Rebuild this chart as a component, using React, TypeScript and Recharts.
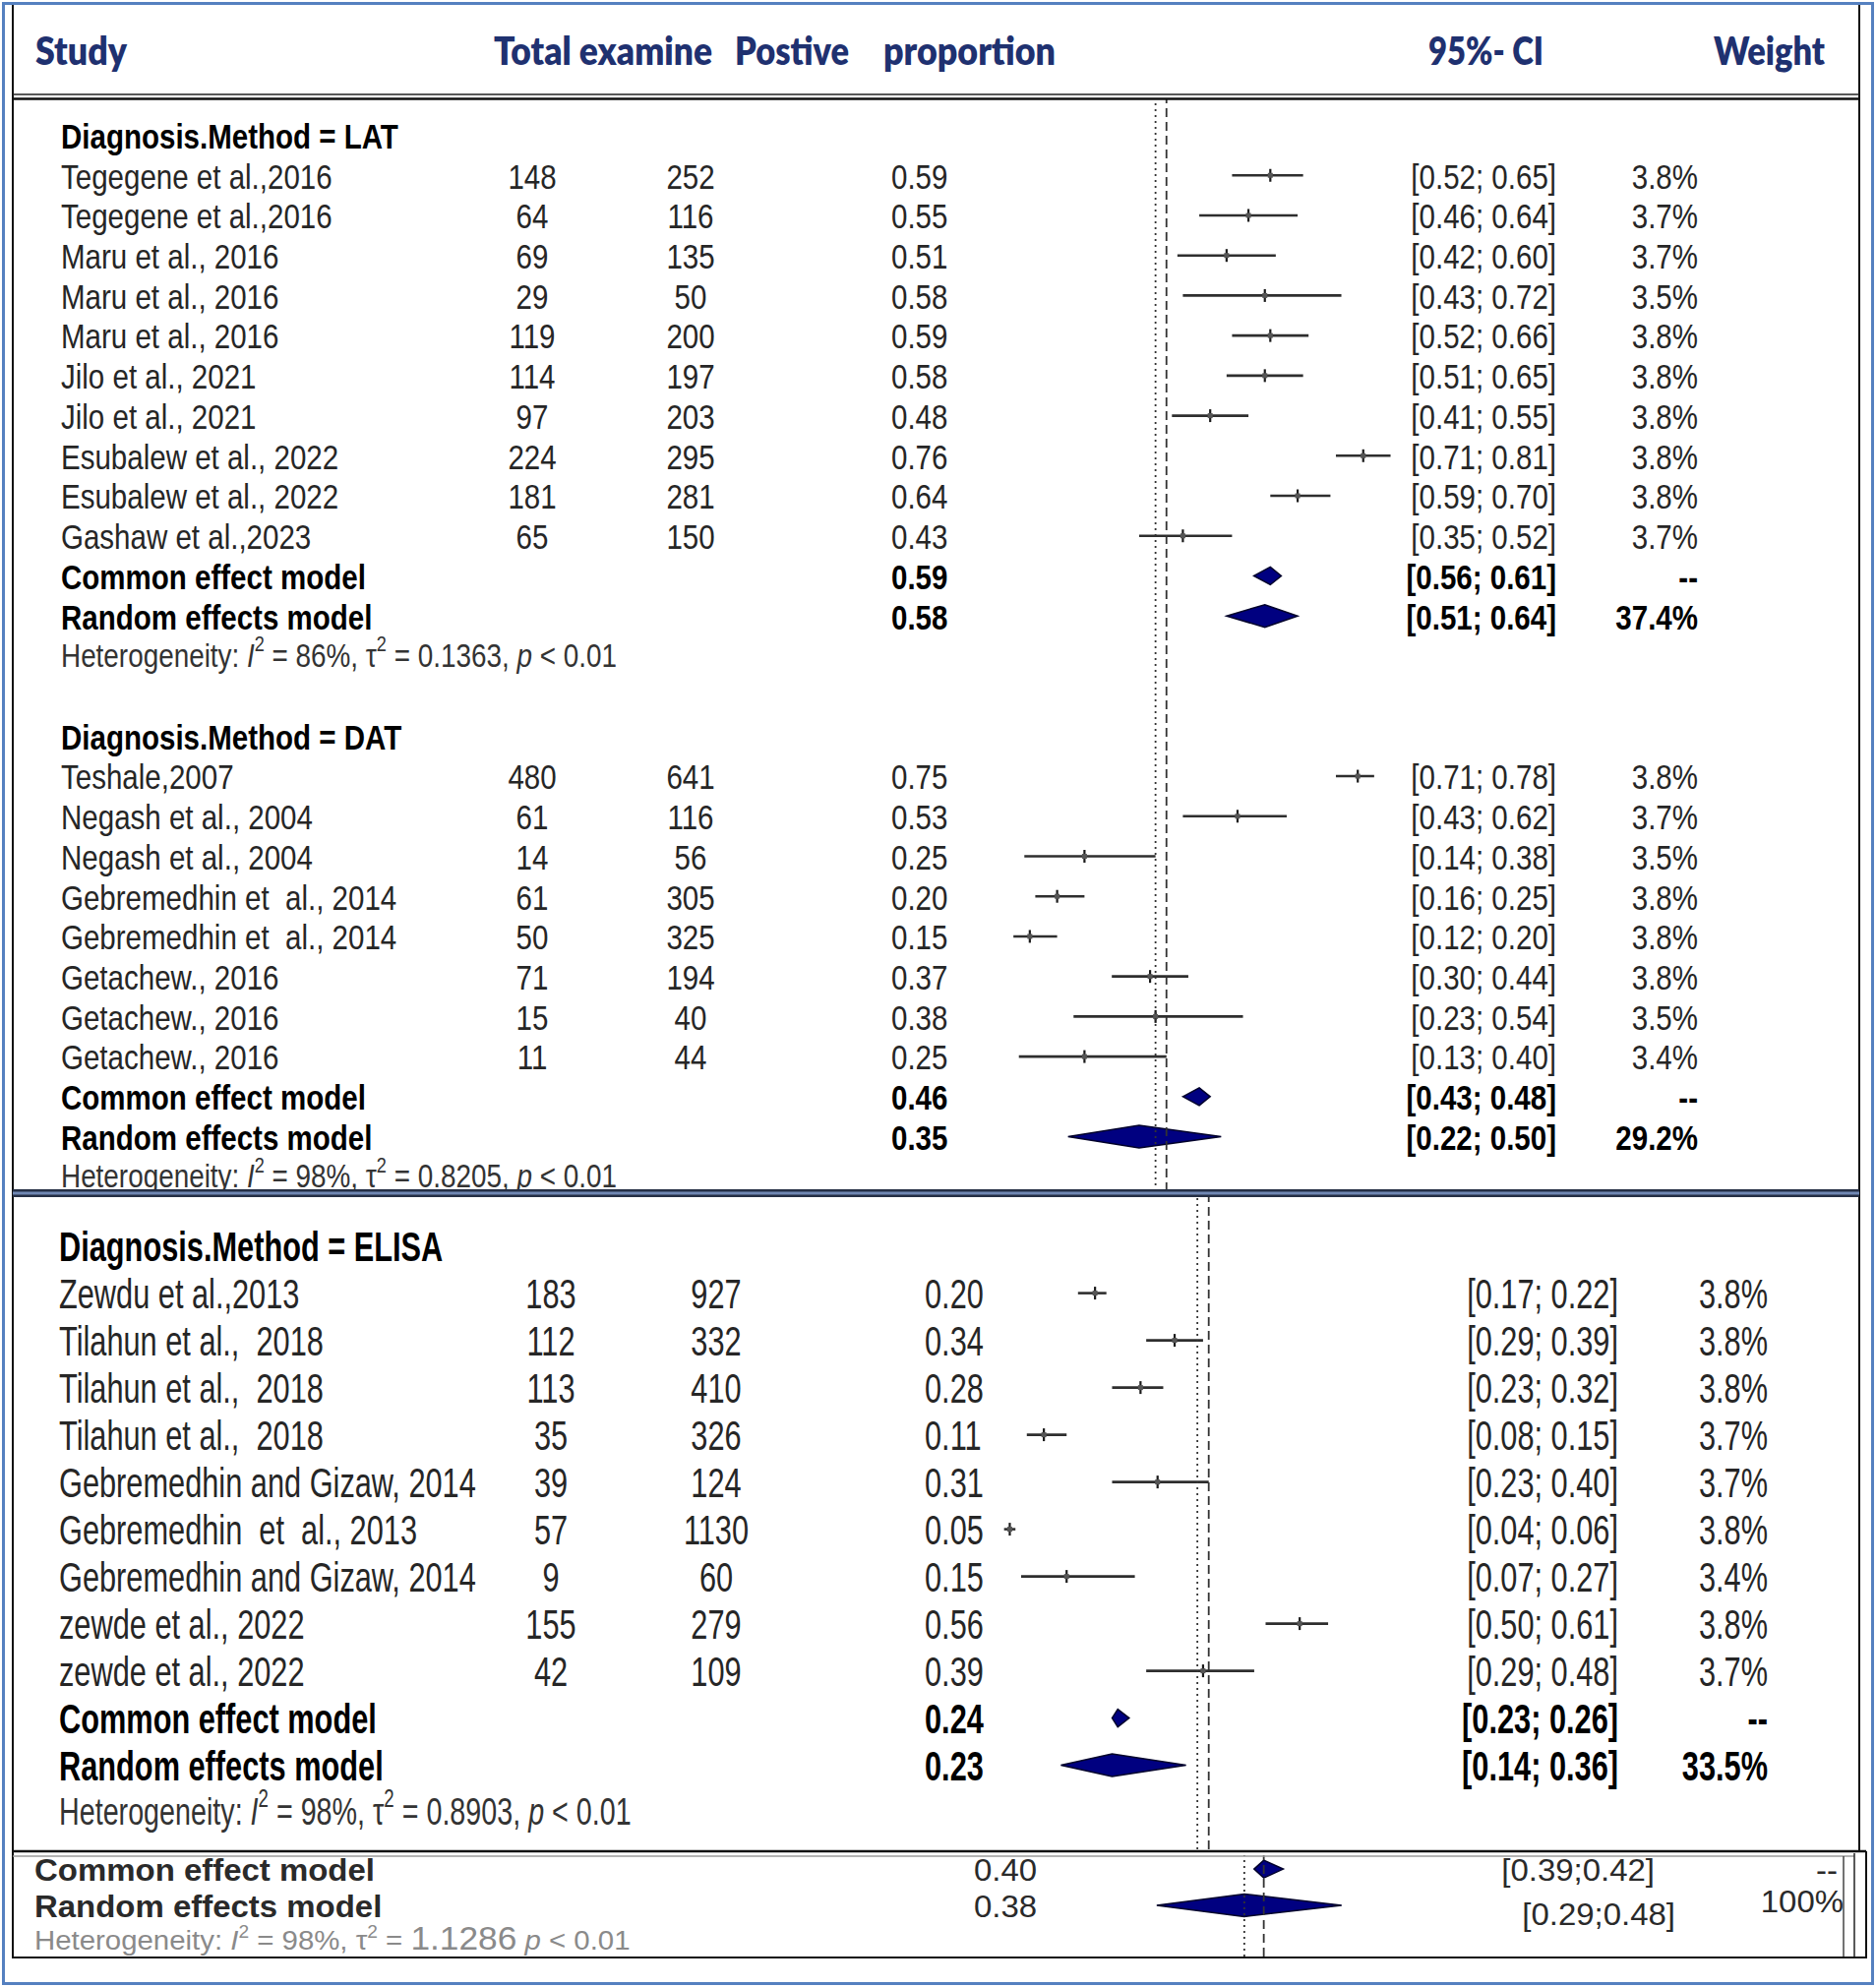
import React from 'react';
import { ComposedChart, Bar, XAxis, YAxis, ReferenceLine } from 'recharts';

const W = 1907;
const H = 2020;
const FONT = "'Liberation Sans', Arial, Helvetica, sans-serif";

// ---- LAT ----
const latStudies = [
  'Tegegene et al.,2016', 'Tegegene et al.,2016', 'Maru et al., 2016', 'Maru et al., 2016', 'Maru et al., 2016',
  'Jilo et al., 2021', 'Jilo et al., 2021', 'Esubalew et al., 2022', 'Esubalew et al., 2022', 'Gashaw et al.,2023',
];
const latTotal = [148, 64, 69, 29, 119, 114, 97, 224, 181, 65];
const latPositive = [252, 116, 135, 50, 200, 197, 203, 295, 281, 150];
const latProp = [0.59, 0.55, 0.51, 0.58, 0.59, 0.58, 0.48, 0.76, 0.64, 0.43];
const latLo = [0.52, 0.46, 0.42, 0.43, 0.52, 0.51, 0.41, 0.71, 0.59, 0.35];
const latHi = [0.65, 0.64, 0.60, 0.72, 0.66, 0.65, 0.55, 0.81, 0.70, 0.52];
const latWeight = [3.8, 3.7, 3.7, 3.5, 3.8, 3.8, 3.8, 3.8, 3.8, 3.7];
const latCommon = [0.59, 0.56, 0.61];
const latRandom = [0.58, 0.51, 0.64, 37.4];

// ---- DAT ----
const datStudies = [
  'Teshale,2007', 'Negash et al., 2004', 'Negash et al., 2004', 'Gebremedhin et  al., 2014',
  'Gebremedhin et  al., 2014', 'Getachew., 2016', 'Getachew., 2016', 'Getachew., 2016',
];
const datTotal = [480, 61, 14, 61, 50, 71, 15, 11];
const datPositive = [641, 116, 56, 305, 325, 194, 40, 44];
const datProp = [0.75, 0.53, 0.25, 0.20, 0.15, 0.37, 0.38, 0.25];
const datLo = [0.71, 0.43, 0.14, 0.16, 0.12, 0.30, 0.23, 0.13];
const datHi = [0.78, 0.62, 0.38, 0.25, 0.20, 0.44, 0.54, 0.40];
const datWeight = [3.8, 3.7, 3.5, 3.8, 3.8, 3.8, 3.5, 3.4];
const datCommon = [0.46, 0.43, 0.48];
const datRandom = [0.35, 0.22, 0.50, 29.2];

// ---- ELISA ----
const elisaStudies = [
  'Zewdu et al.,2013', 'Tilahun et al.,  2018', 'Tilahun et al.,  2018', 'Tilahun et al.,  2018',
  'Gebremedhin and Gizaw, 2014', 'Gebremedhin  et  al., 2013', 'Gebremedhin and Gizaw, 2014',
  'zewde et al., 2022', 'zewde et al., 2022',
];
const elisaTotal = [183, 112, 113, 35, 39, 57, 9, 155, 42];
const elisaPositive = [927, 332, 410, 326, 124, 1130, 60, 279, 109];
const elisaProp = [0.20, 0.34, 0.28, 0.11, 0.31, 0.05, 0.15, 0.56, 0.39];
const elisaLo = [0.17, 0.29, 0.23, 0.08, 0.23, 0.04, 0.07, 0.50, 0.29];
const elisaHi = [0.22, 0.39, 0.32, 0.15, 0.40, 0.06, 0.27, 0.61, 0.48];
const elisaWeight = [3.8, 3.8, 3.8, 3.7, 3.7, 3.8, 3.4, 3.8, 3.7];
const elisaCommon = [0.24, 0.23, 0.26];
const elisaRandom = [0.23, 0.14, 0.36, 33.5];

// ---- overall ----
const overallCommon = [0.40, 0.39, 0.42];
const overallRandom = [0.38, 0.29, 0.48, 100];

const hetI2 = ['86%', '98%', '98%', '98%'];
const hetTau2 = ['0.1363', '0.8205', '0.8903', '1.1286'];

const refRandom = 0.38;
const refCommon = 0.40;

const headers = ['Study', 'Total examine', 'Postive', 'proportion', '95%- CI', 'Weight'];

type Row = {
  row: number;
  kind: 'group' | 'study' | 'common' | 'random' | 'het';
  label?: string;
  total?: number;
  pos?: number;
  est?: number;
  range?: [number, number] | null;
  weight?: string;
  het?: number;
};

function buildGroup(start: number, method: string, names: string[], total: number[], pos: number[], prop: number[],
  lo: number[], hi: number[], w: number[], common: number[], random: number[], het: number): Row[] {
  const rows: Row[] = [{ row: start, kind: 'group', label: 'Diagnosis.Method = ' + method, range: null }];
  names.forEach((n, i) => {
    rows.push({ row: start + 1 + i, kind: 'study', label: n, total: total[i], pos: pos[i], est: prop[i], range: [lo[i], hi[i]], weight: w[i].toFixed(1) + '%' });
  });
  const k = start + 1 + names.length;
  rows.push({ row: k, kind: 'common', label: 'Common effect model', est: common[0], range: [common[1], common[2]], weight: '--' });
  rows.push({ row: k + 1, kind: 'random', label: 'Random effects model', est: random[0], range: [random[1], random[2]], weight: random[3].toFixed(1) + '%' });
  rows.push({ row: k + 2, kind: 'het', het, range: null });
  return rows;
}

const latRows = buildGroup(0, 'LAT', latStudies, latTotal, latPositive, latProp, latLo, latHi, latWeight, latCommon, latRandom, 0);
const datRows = buildGroup(latRows.length + 1, 'DAT', datStudies, datTotal, datPositive, datProp, datLo, datHi, datWeight, datCommon, datRandom, 1);
const panel1Rows = [...latRows, ...datRows];
const panel2Rows = buildGroup(0, 'ELISA', elisaStudies, elisaTotal, elisaPositive, elisaProp, elisaLo, elisaHi, elisaWeight, elisaCommon, elisaRandom, 2);
const panel3Rows: Row[] = [
  { row: 0, kind: 'common', label: 'Common effect model', est: overallCommon[0], range: [overallCommon[1], overallCommon[2]], weight: '--' },
  { row: 1, kind: 'random', label: 'Random effects model', est: overallRandom[0], range: [overallRandom[1], overallRandom[2]], weight: overallRandom[3] + '%' },
  { row: 2, kind: 'het', het: 3, range: null },
];

type Cfg = {
  top: number; height: number; rowY0: number; step: number; x0: number; ppu: number;
  fs: number; sx: number; sy: number; hetFs: number;
  cols: { name: number; total: number; pos: number; prop: number; ci: number; weight: number };
  overall?: boolean;
};

const P1: Cfg = { top: 100, height: 1111, rowY0: 137.9, step: 40.72, x0: 962.5, ppu: 556.2, fs: 36, sx: 0.82, sy: 1, hetFs: 34,
  cols: { name: 62, total: 541, pos: 702, prop: 906, ci: 1582, weight: 1726 } };
const P2: Cfg = { top: 1216, height: 664, rowY0: 1266.6, step: 48.0, x0: 996.6, ppu: 578.5, fs: 37.5, sx: 0.82, sy: 1.12, hetFs: 35,
  cols: { name: 60, total: 560, pos: 728, prop: 940, ci: 1645, weight: 1797 } };
const P3: Cfg = { top: 1886, height: 103, rowY0: 1900.5, step: 36.8, x0: 888, ppu: 990, fs: 32, sx: 1.03, sy: 1, hetFs: 28,
  cols: { name: 35, total: 0, pos: 0, prop: 990, ci: 1682, weight: 1868 }, overall: true };

function T({ x, y, fs, sx, sy, anchor = 'start', bold = false, fill = '#262626', children }: any) {
  return (
    <text transform={`translate(${x},${y}) scale(${sx},${sy})`} fontSize={fs} textAnchor={anchor}
      fontWeight={bold ? 700 : 400} fill={fill} fontFamily={FONT} style={{ whiteSpace: 'pre' }}>
      {children}
    </text>
  );
}

function HetText({ x, y, fs, sx, sy, idx, overall }: any) {
  const up = fs * 0.45;
  const fill = overall ? '#8a8a8a' : '#333';
  return (
    <text transform={`translate(${x},${y}) scale(${sx},${sy})`} fontSize={fs} fill={fill} fontFamily={FONT} style={{ whiteSpace: 'pre' }}>
      {'Heterogeneity: '}
      <tspan fontStyle="italic">I</tspan>
      <tspan dy={-up} fontSize={fs * 0.65}>2</tspan>
      <tspan dy={up}>{` = ${hetI2[idx]}, `}</tspan>
      <tspan>τ</tspan>
      <tspan dy={-up} fontSize={fs * 0.65}>2</tspan>
      <tspan dy={up}>{' = '}</tspan>
      <tspan fontSize={overall ? fs * 1.2 : fs}>{hetTau2[idx]}</tspan>
      <tspan>{overall ? ' ' : ', '}</tspan>
      <tspan fontStyle="italic">p</tspan>
      <tspan>{' < 0.01'}</tspan>
    </text>
  );
}

function makeTick(cfg: Cfg, rows: Row[]) {
  return (props: any) => {
    const cy = props.y;
    const r = rows.find((d) => d.row === props.payload.value);
    if (!r) return <g />;
    const { fs, sx, sy, cols } = cfg;
    const base = cy + 0.36 * fs * sy;
    const p = { fs, sx, sy };
    if (r.kind === 'group') {
      return <g><T x={cols.name} y={base} {...p} bold fill="#000">{r.label}</T></g>;
    }
    if (r.kind === 'het') {
      const hb = cy + 0.36 * cfg.hetFs * sy - 2;
      return <g><HetText x={cols.name} y={hb} fs={cfg.hetFs} sx={cfg.overall ? 1.05 : sx} sy={sy} idx={r.het} overall={cfg.overall} /></g>;
    }
    const lo = r.range![0].toFixed(2);
    const hi = r.range![1].toFixed(2);
    if (cfg.overall) {
      const isRandom = r.kind === 'random';
      return (
        <g>
          <T x={cols.name} y={base} {...p} bold fill="#2a2a2a">{r.label}</T>
          <T x={cols.prop} y={base} {...p} fill="#2a2a2a">{r.est!.toFixed(2)}</T>
          <T x={isRandom ? cols.ci + 21 : cols.ci} y={base + (isRandom ? 8 : 0)} {...p} anchor="end" fill="#2a2a2a">{`[${lo};${hi}]`}</T>
          <T x={isRandom ? cols.weight + 6 : cols.weight} y={base + (isRandom ? -5 : 0)} {...p} anchor="end" fill="#2a2a2a">{r.weight}</T>
        </g>
      );
    }
    const bold = r.kind !== 'study';
    const fill = bold ? '#000' : '#262626';
    return (
      <g>
        <T x={cols.name} y={base} {...p} bold={bold} fill={fill}>{r.label}</T>
        {r.kind === 'study' && <T x={cols.total} y={base} {...p} anchor="middle">{r.total}</T>}
        {r.kind === 'study' && <T x={cols.pos} y={base} {...p} anchor="middle">{r.pos}</T>}
        <T x={cols.prop} y={base} {...p} bold={bold} fill={fill}>{r.est!.toFixed(2)}</T>
        <T x={cols.ci} y={base} {...p} bold={bold} fill={fill} anchor="end">{`[${lo}; ${hi}]`}</T>
        <T x={cols.weight} y={base} {...p} bold={bold} fill={fill} anchor="end">{r.weight}</T>
      </g>
    );
  };
}

function Mark(props: any) {
  const { x, y, width, height } = props;
  const d: Row = props.payload || props;
  if (!d || !d.range || !isFinite(x) || !isFinite(width)) return null;
  const cy = y + height / 2;
  const ex = x + (width * (d.est! - d.range[0])) / (d.range[1] - d.range[0]);
  if (d.kind === 'study') {
    return (
      <g>
        <line x1={x} x2={x + width} y1={cy} y2={cy} stroke="#2e2e2e" strokeWidth={2.6} />
        <line x1={ex} x2={ex} y1={cy - 6.5} y2={cy + 6.5} stroke="#1a1a1a" strokeWidth={2.2} />
        <rect x={ex - 2.5} y={cy - 2.5} width={5} height={5} fill="#555" />
      </g>
    );
  }
  const h = d.kind === 'common' ? 9 : 11.5;
  return (
    <polygon points={`${x},${cy} ${ex},${cy - h} ${x + width},${cy} ${ex},${cy + h}`}
      fill="#000080" stroke="#00002a" strokeWidth={1.5} />
  );
}

function Panel({ cfg, rows }: { cfg: Cfg; rows: Row[] }) {
  const xDomain = [-cfg.x0 / cfg.ppu, (W - cfg.x0) / cfg.ppu];
  const yDomain = [(cfg.top - cfg.rowY0) / cfg.step, (cfg.top + cfg.height - cfg.rowY0) / cfg.step];
  return (
    <div style={{ position: 'absolute', left: 0, top: cfg.top }}>
      <ComposedChart layout="vertical" width={W} height={cfg.height} data={rows}
        margin={{ top: 0, right: 0, bottom: 0, left: 0 }} style={{ overflow: 'visible' }}>
        <XAxis type="number" hide domain={xDomain} allowDataOverflow />
        <YAxis type="number" dataKey="row" domain={yDomain} allowDataOverflow width={2}
          axisLine={false} tickLine={false} ticks={rows.map((r) => r.row)} interval={0}
          tick={makeTick(cfg, rows)} />
        <ReferenceLine x={refRandom} stroke="#333" strokeWidth={1.8} strokeDasharray="2 4" />
        <ReferenceLine x={refCommon} stroke="#333" strokeWidth={1.8} strokeDasharray="9 5" />
        <Bar dataKey="range" barSize={24} isAnimationActive={false} shape={(p: any) => <Mark {...p} />} />
      </ComposedChart>
    </div>
  );
}

const headerPos = [
  { x: 36, w: 93 }, { x: 502, w: 222 }, { x: 747, w: 116 }, { x: 898, w: 175 }, { x: 1452, w: 117 }, { x: 1742, w: 113 },
];

export default function App() {
  return (
    <div style={{ position: 'absolute', left: 0, top: 0, width: W, height: H, background: '#fff', overflow: 'hidden' }}>
      <Panel cfg={P1} rows={panel1Rows} />
      <Panel cfg={P2} rows={panel2Rows} />
      <Panel cfg={P3} rows={panel3Rows} />
      <svg width={W} height={H} style={{ position: 'absolute', left: 0, top: 0, pointerEvents: 'none' }}>
        <rect x={3.5} y={3.5} width={W - 7} height={H - 7} fill="none" stroke="#5580c0" strokeWidth={3} />
        <line x1={13} x2={13} y1={5} y2={1991} stroke="#111" strokeWidth={2} />
        <line x1={1890} x2={1890} y1={5} y2={1883} stroke="#111" strokeWidth={2} />
        <line x1={13} x2={1890} y1={96} y2={96} stroke="#222" strokeWidth={1.5} />
        <line x1={13} x2={1890} y1={100.5} y2={100.5} stroke="#111" strokeWidth={2.5} />
        <rect x={13} y={1209} width={1877} height={8} fill="#252f45" />
        <rect x={13} y={1211.5} width={1877} height={3} fill="#7088b4" />
        <line x1={13} x2={1897} y1={1882} y2={1882} stroke="#111" strokeWidth={2.5} />
        <line x1={13} x2={1885} y1={1887} y2={1887} stroke="#9a9a9a" strokeWidth={1.5} />
        <line x1={1874} x2={1874} y1={1887} y2={1990} stroke="#444" strokeWidth={1.5} />
        <line x1={1885} x2={1885} y1={1884} y2={1990} stroke="#222" strokeWidth={1.5} />
        <line x1={1897} x2={1897} y1={1882} y2={1991} stroke="#111" strokeWidth={2} />
        <line x1={13} x2={1897} y1={1990} y2={1990} stroke="#111" strokeWidth={2} />
        {headers.map((h, i) => (
          <text key={h} x={headerPos[i].x} y={66} fontSize={40} fontWeight={800} fill="#1f3170"
            fontFamily="Lato, 'Open Sans', sans-serif" textLength={headerPos[i].w} lengthAdjust="spacingAndGlyphs">
            {h}
          </text>
        ))}
      </svg>
    </div>
  );
}
